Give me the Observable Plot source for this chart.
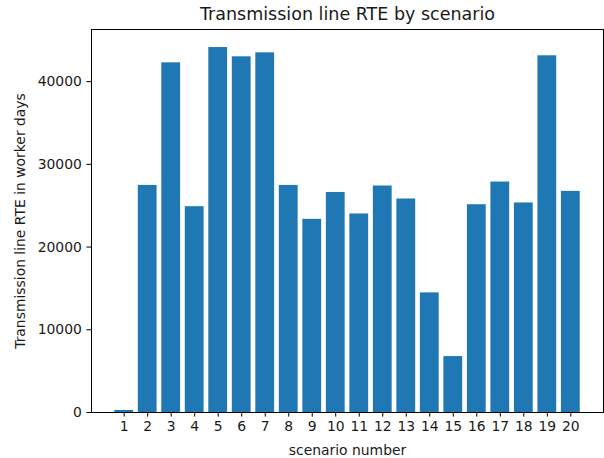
<!DOCTYPE html>
<html>
<head>
<meta charset="utf-8">
<script src="https://cdn.jsdelivr.net/npm/d3@7"></script>
<script src="https://cdn.jsdelivr.net/npm/@observablehq/plot@0.6"></script>
<style>
  html, body { margin: 0; padding: 0; background: #fff; }
  #chart svg { display: block; }
</style>
</head>
<body>
<div id="chart"></div>
<script>
const scenarios = [1,2,3,4,5,6,7,8,9,10,11,12,13,14,15,16,17,18,19,20];
const rteValues = [250,27450,42270,24880,44120,43000,43480,27450,23350,26600,24000,27380,25810,14460,6760,25120,27860,25330,43120,26730];
const yTicks = [0,10000,20000,30000,40000];
const titleText = "Transmission line RTE by scenario";
const xLabel = "scenario number";
const yLabel = "Transmission line RTE in worker days";

const data = scenarios.map((s, i) => ({s, v: rteValues[i]}));
const font = "DejaVu Sans, sans-serif";
const ink = "#1a1a1a";

const chart = Plot.plot({
  width: 604,
  height: 458,
  marginLeft: 91,
  marginRight: 1,
  marginTop: 29,
  marginBottom: 46,
  style: {fontFamily: font, fontSize: "14px", color: ink, background: "#fff"},
  x: {type: "linear", domain: [-0.39, 21.39]},
  y: {domain: [0, 46300]},
  marks: [
    Plot.rectY(data, {x1: d => d.s - 0.4, x2: d => d.s + 0.4, y: "v", fill: "#1f77b4"}),
    Plot.frame({stroke: "#000", strokeWidth: 1}),
    Plot.axisX({ticks: scenarios, tickSize: 4.6, tickPadding: 4, tickFormat: d => String(d), label: null, fontSize: 13.9, stroke: "#000", fill: ink}),
    Plot.axisY({ticks: yTicks, tickSize: 4.6, tickPadding: 5, tickFormat: d => String(d), label: null, fontSize: 13.9, stroke: "#000", fill: ink}),
    Plot.text([xLabel], {frameAnchor: "bottom", lineAnchor: "middle", dy: 38, fontSize: 13.9, fill: ink}),
    Plot.text([yLabel], {frameAnchor: "left", textAnchor: "middle", dx: -71, rotate: -90, fontSize: 13.9, fill: ink}),
    Plot.text([titleText], {frameAnchor: "top", lineAnchor: "middle", dy: -15, fontSize: 17.5, fill: ink})
  ]
});
document.getElementById("chart").appendChild(chart);
</script>
</body>
</html>
